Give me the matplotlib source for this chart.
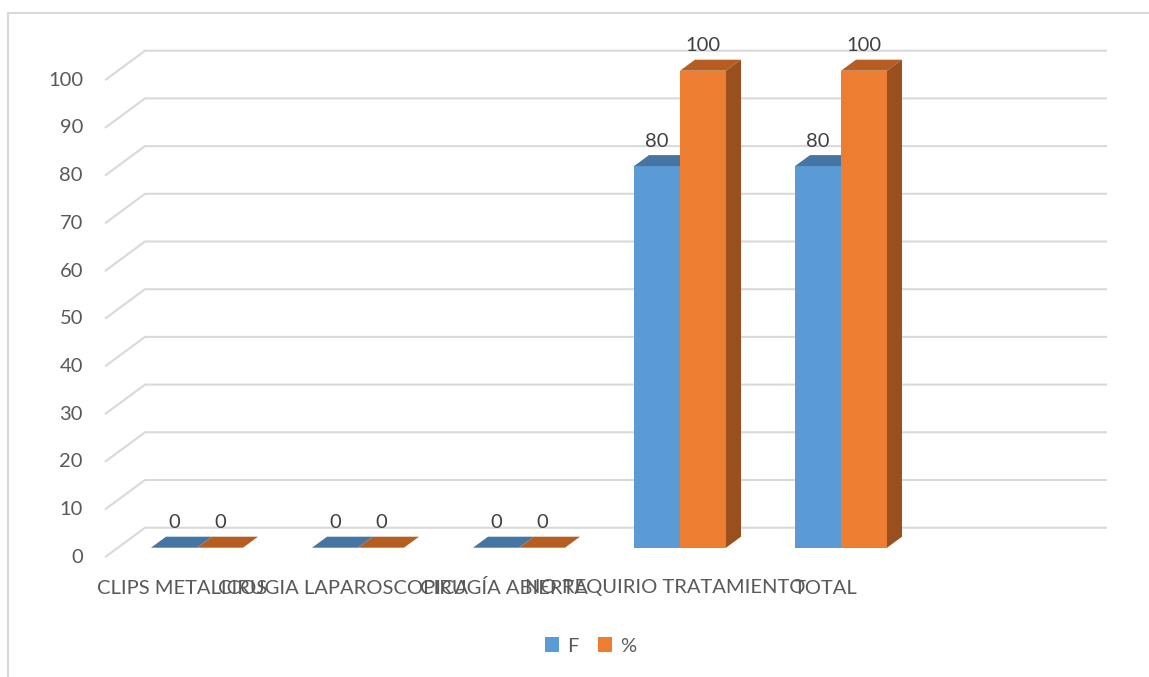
import matplotlib

matplotlib.use("Agg")

import matplotlib.pyplot as plt
from matplotlib.lines import Line2D
from matplotlib.patches import Patch, Polygon

# Chart data
categories = ["CLIPS METALICOS", "CIRUGIA LAPAROSCOPICA", "CIRUGÍA ABIERTA",
              "NO REQUIRIO TRATAMIENTO", "TOTAL", ""]
series_names = ["F", "%"]
values_f = [0, 0, 0, 80, 80]
values_pct = [0, 0, 0, 100, 100]
y_ticks = [0, 10, 20, 30, 40, 50, 60, 70, 80, 90, 100]

plt.rcParams["font.family"] = ["Lato", "DejaVu Sans"]
FS = 14.5

W, H, DPI = 1149, 677, 100
# pixel layout of the pseudo-3D column chart
CAT_PX = 161.0          # one category slot
VAL_PX = 4.77           # one value unit
X0_PX, Y0_PX = 197.0, 547.7

fig = plt.figure(figsize=(W / DPI, H / DPI), dpi=DPI)
ax = fig.add_axes([0, 0, 1, 1])
ax.set_xlim(-X0_PX / CAT_PX, (W - X0_PX) / CAT_PX)
ax.set_ylim((Y0_PX - H) / VAL_PX, Y0_PX / VAL_PX)
ax.axis("off")

bar_w = 46 / CAT_PX
ddx, ddy = 15 / CAT_PX, 11 / VAL_PX          # bar depth
wall_front_x, wall_back_x = -92 / CAT_PX, -52 / CAT_PX
wall_end_x = 910 / CAT_PX
front_dy, back_dy = -9.5 / VAL_PX, 20 / VAL_PX

grid_color = "#D9D9D9"
text_color = "#595959"

# back wall gridlines with the slanted side-wall segment
for v in y_ticks:
    ax.plot([wall_front_x, wall_back_x, wall_end_x],
            [v + front_dy, v + back_dy, v + back_dy],
            color=grid_color, lw=1.5, zorder=1, solid_capstyle="butt")
    ax.text(wall_front_x - 22 / CAT_PX, v + front_dy, str(v), ha="right", va="center",
            fontsize=FS, color=text_color)


def draw_bar(x0, v, front, top, side, show_side):
    x1 = x0 + bar_w
    ax.add_patch(Polygon([(x0, 0), (x1, 0), (x1, v), (x0, v)], closed=True,
                         facecolor=front, edgecolor="none", zorder=3))
    ax.add_patch(Polygon([(x0, v), (x1, v), (x1 + ddx, v + ddy), (x0 + ddx, v + ddy)],
                         closed=True, facecolor=top, edgecolor="none", zorder=3))
    if show_side:
        ax.add_patch(Polygon([(x1, 0), (x1, v), (x1 + ddx, v + ddy), (x1 + ddx, ddy)],
                             closed=True, facecolor=side, edgecolor="none", zorder=3))
    ax.text(x0 + bar_w / 2, v + ddy + 14 / VAL_PX, f"{v:g}", ha="center", va="center",
            fontsize=FS, color="#404040", zorder=4)


for i, (vf, vp) in enumerate(zip(values_f, values_pct)):
    draw_bar(i - bar_w, vf, "#5B9BD5", "#4575A2", "#3F6C96", False)
    draw_bar(i, vp, "#ED7D31", "#B65E22", "#9A4F1E", True)

# category labels (they overlap, as in the original layout)
for i, name in enumerate(categories):
    ax.text(i - 15 / CAT_PX, (Y0_PX - 588) / VAL_PX, name, ha="center", va="center",
            fontsize=FS, color=text_color)

handles = [Patch(facecolor="#5B9BD5", label=series_names[0]),
           Patch(facecolor="#ED7D31", label=series_names[1])]
leg = ax.legend(handles=handles, loc="center", bbox_to_anchor=(0.514, 1 - 646 / H),
                ncol=2, frameon=False, fontsize=FS, handlelength=0.7, handleheight=0.7,
                handletextpad=0.4, columnspacing=1.0)
for t in leg.get_texts():
    t.set_color(text_color)

# outer chart border
fig.add_artist(Line2D([8 / W, 1], [1 - 13 / H, 1 - 13 / H], color=grid_color, lw=1.5))
fig.add_artist(Line2D([8 / W, 8 / W], [0, 1 - 13 / H], color=grid_color, lw=1.5))

fig.savefig("out.png", dpi=DPI)
